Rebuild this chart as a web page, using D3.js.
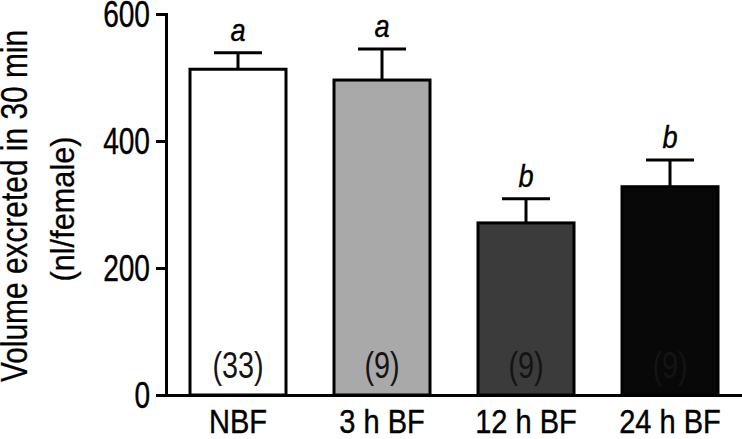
<!DOCTYPE html>
<html lang="en">
<head>
<meta charset="UTF-8">
<title>Volume excreted</title>
<script src="https://d3js.org/d3.v7.min.js"></script>
<style>
  body { margin: 0; background: #fff; }
  text { font-family: "Liberation Sans", Arial, sans-serif; fill: #000; }
</style>
</head>
<body>
<svg id="plot" width="742" height="439"></svg>
<script>
    // data
    const groups = ["NBF", "3 h BF", "12 h BF", "24 h BF"];
    const means = [513, 496, 271, 328];
    const sems = [26, 49, 38, 42];
    const nLabels = ["(33)", "(9)", "(9)", "(9)"];
    const letters = ["a", "a", "b", "b"];
    const fills = ["#ffffff", "#a9a9a9", "#3b3b3b", "#080808"];
    const yTicks = [0, 200, 400, 600];

    const svg = d3.select("#plot");

    const x = d3.scaleBand()
        .domain(groups)
        .range([166, 742])
        .paddingInner(1 / 3)
        .paddingOuter(1 / 6);

    const y = d3.scaleLinear()
        .domain([0, 600])
        .range([395, 14]);

    // squeeze text horizontally (figure uses a narrow font)
    function squeeze(sel, f) {
        sel.each(function () {
            const w = this.getComputedTextLength();
            d3.select(this).attr("textLength", w * f).attr("lengthAdjust", "spacingAndGlyphs");
        });
    }

    // bars
    svg.selectAll("rect.bar").data(groups).join("rect")
        .attr("class", "bar")
        .attr("x", d => x(d))
        .attr("y", (d, i) => y(means[i]))
        .attr("width", x.bandwidth())
        .attr("height", (d, i) => y(0) - y(means[i]))
        .attr("fill", (d, i) => fills[i])
        .attr("stroke", "#000")
        .attr("stroke-width", 3);

    // error bars (upper only)
    const cap = x.bandwidth() / 4;
    groups.forEach((g, i) => {
        const cx = x(g) + x.bandwidth() / 2;
        svg.append("line")
            .attr("x1", cx).attr("x2", cx)
            .attr("y1", y(means[i])).attr("y2", y(means[i] + sems[i]))
            .attr("stroke", "#000").attr("stroke-width", 3);
        svg.append("line")
            .attr("x1", cx - cap).attr("x2", cx + cap)
            .attr("y1", y(means[i] + sems[i])).attr("y2", y(means[i] + sems[i]))
            .attr("stroke", "#000").attr("stroke-width", 3);
    });

    // significance letters
    svg.selectAll("text.sig").data(groups).join("text")
        .attr("class", "sig")
        .attr("x", d => x(d) + x.bandwidth() / 2)
        .attr("y", (d, i) => y(means[i] + sems[i]) - 12)
        .attr("text-anchor", "middle")
        .style("font-size", "32px")
        .style("font-style", "italic")
        .style("stroke", "#000").style("stroke-width", 0.4)
        .text((d, i) => letters[i])
        .call(squeeze, 0.85);

    // n labels
    svg.selectAll("text.n").data(groups).join("text")
        .attr("class", "n")
        .attr("x", d => x(d) + x.bandwidth() / 2)
        .attr("y", 378)
        .attr("text-anchor", "middle")
        .style("font-size", "36px")
        .style("fill", "#141414")
        .text((d, i) => nLabels[i])
        .call(squeeze, 0.8);

    // y axis
    const yAxis = svg.append("g")
        .attr("transform", "translate(166,0)")
        .call(d3.axisLeft(y).tickValues(yTicks).tickSize(10).tickSizeOuter(0).tickPadding(6));
    yAxis.select(".domain").attr("stroke-width", 3).attr("stroke-linecap", "square");
    yAxis.selectAll(".tick line").attr("stroke-width", 3);
    yAxis.selectAll(".tick text")
        .attr("font-family", null)
        .attr("dy", "0.36em")
        .style("font-size", "36px")
        .style("stroke", "#000").style("stroke-width", 0.4)
        .call(squeeze, 0.78);

    // x axis
    const xAxis = svg.append("g")
        .attr("transform", "translate(0,395)")
        .call(d3.axisBottom(x).tickSize(0).tickSizeOuter(0).tickPadding(14));
    xAxis.select(".domain").attr("stroke-width", 3);
    xAxis.selectAll(".tick text")
        .attr("font-family", null)
        .attr("dy", "0.72em")
        .style("font-size", "33px")
        .style("stroke", "#000").style("stroke-width", 0.4)
        .call(squeeze, 0.88);

    // y title
    const title = ["Volume excreted in 30 min", "(nl/female)"];
    svg.append("text")
        .attr("transform", "translate(27,206) rotate(-90)")
        .attr("text-anchor", "middle")
        .style("font-size", "36px")
        .style("stroke", "#000").style("stroke-width", 0.3)
        .text(title[0])
        .call(squeeze, 0.83);
    svg.append("text")
        .attr("transform", "translate(74,209) rotate(-90)")
        .attr("text-anchor", "middle")
        .style("font-size", "33px")
        .style("stroke", "#000").style("stroke-width", 0.3)
        .text(title[1])
        .call(squeeze, 0.93);
</script>
</body>
</html>
